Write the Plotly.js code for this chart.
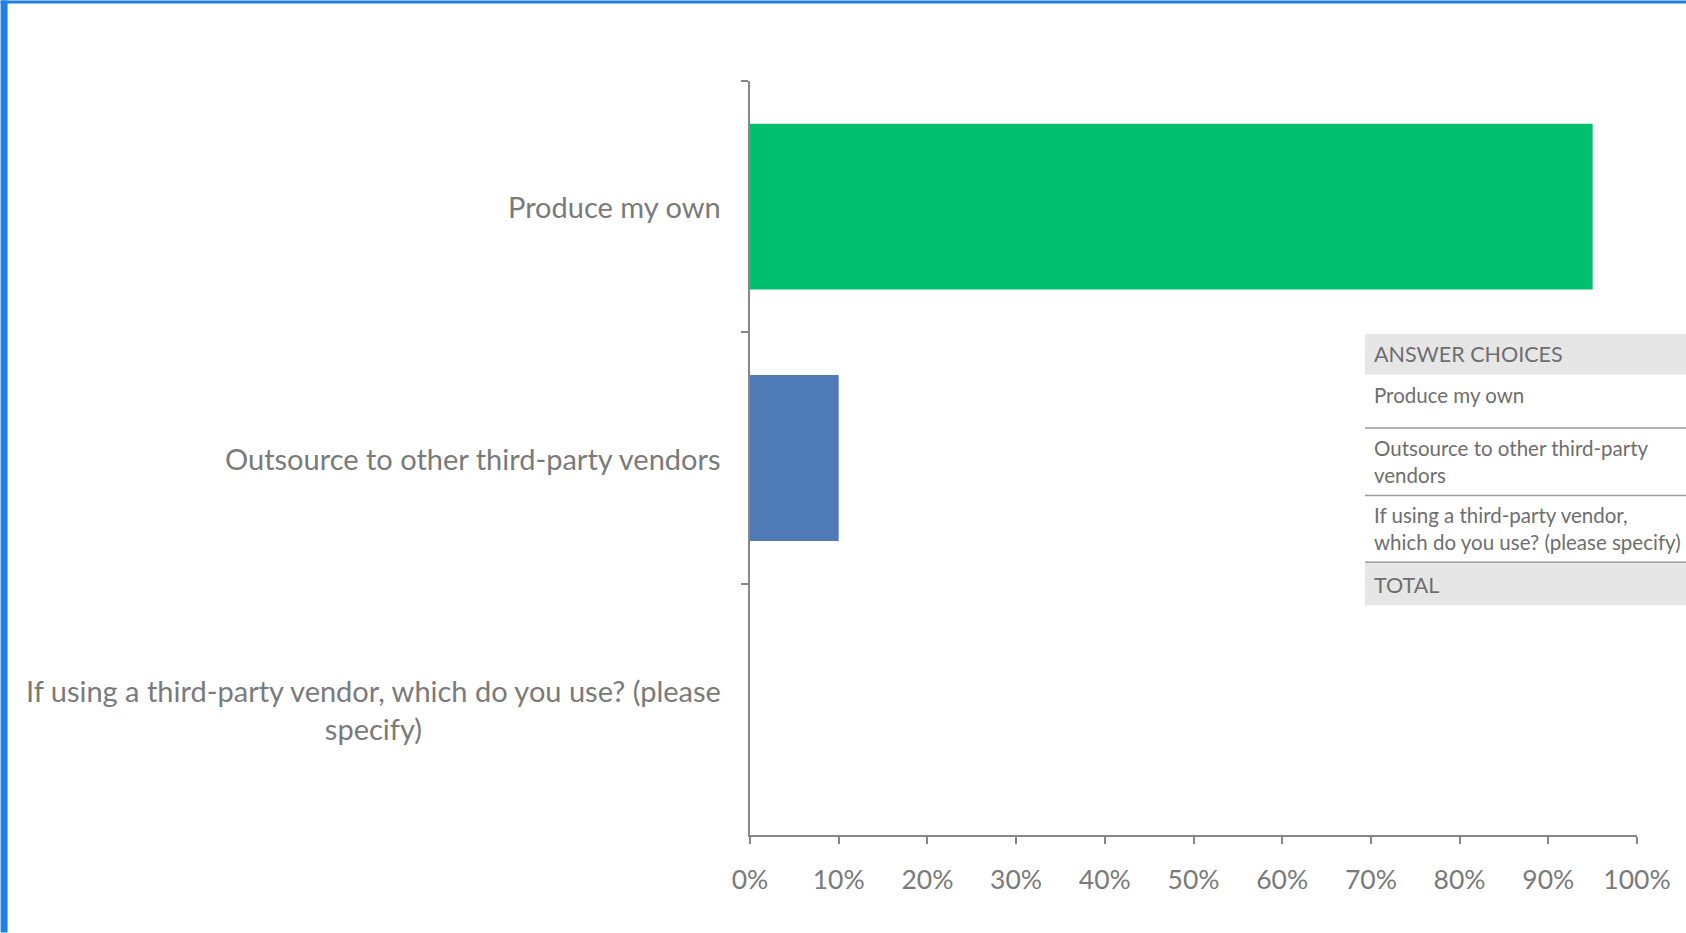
<!DOCTYPE html>
<html>
<head>
<meta charset="utf-8">
<script src="https://cdn.plot.ly/plotly-3.0.1.min.js"></script>
<style>
  html, body { margin: 0; padding: 0; background: #ffffff; }
  #chart { width: 1686px; height: 933px; }
</style>
</head>
<body>
<div id="chart"></div>
<script>
// ---- data ----
const categories = [
  "Produce my own",
  "Outsource to other third-party vendors",
  "If using a third-party vendor, which do you use? (please specify)"
];
const categoryLabels = [
  "Produce my own",
  "Outsource to other third-party vendors",
  "If using a third-party vendor, which do you use? (please<br>specify)"
];
const values = [0.95, 0.10, 0.0];
const barColors = ["#00BF6F", "#4E7AB5", "#4E7AB5"];
const xTickVals = [0, 0.1, 0.2, 0.3, 0.4, 0.5, 0.6, 0.7, 0.8, 0.9, 1.0];
const xTickText = ["0%", "10%", "20%", "30%", "40%", "50%", "60%", "70%", "80%", "90%", "100%"];
const tableHeader = "ANSWER CHOICES";
const tableRows = [
  "Produce my own",
  "Outsource to other third-party<br>vendors",
  "If using a third-party vendor,<br>which do you use? (please specify)"
];
const tableFooter = "TOTAL";

// ---- geometry helpers (pixel -> paper) ----
const W = 1686, H = 933;
const L = 749.5, R = 1636.6, T = 80.6, B = 835.5;
const px = x => (x - L) / (R - L);
const py = y => (B - y) / (B - T);

const axisGray = "#878787";
const labelGray = "#7a7a7a";
const tableGray = "#6e6e6e";

const trace = {
  type: "bar",
  orientation: "h",
  y: categories,
  x: values,
  marker: { color: barColors, line: { width: 0 } },
  hoverinfo: "x+y"
};

const shapes = [
  // blue frame
  { type: "rect", xref: "paper", yref: "paper", x0: px(0), x1: px(7), y0: py(0), y1: py(H),
    fillcolor: "#1E80E2", line: { width: 0 }, layer: "above" },
  { type: "rect", xref: "paper", yref: "paper", x0: px(0), x1: px(W), y0: py(0), y1: py(3),
    fillcolor: "#1E80E2", line: { width: 0 }, layer: "above" },
  // table header band
  { type: "rect", xref: "paper", yref: "paper", x0: px(1364.6), x1: px(W), y0: py(334), y1: py(374.5),
    fillcolor: "#e6e6e6", line: { width: 0 } },
  // row separators
  { type: "line", xref: "paper", yref: "paper", x0: px(1364.6), x1: px(W), y0: py(428), y1: py(428),
    line: { color: "#9a9a9a", width: 1.5 } },
  { type: "line", xref: "paper", yref: "paper", x0: px(1364.6), x1: px(W), y0: py(495.5), y1: py(495.5),
    line: { color: "#9a9a9a", width: 1.5 } },
  { type: "line", xref: "paper", yref: "paper", x0: px(1364.6), x1: px(W), y0: py(562.5), y1: py(562.5),
    line: { color: "#9a9a9a", width: 1.5 } },
  // total band
  { type: "rect", xref: "paper", yref: "paper", x0: px(1364.6), x1: px(W), y0: py(563.5), y1: py(605.5),
    fillcolor: "#e6e6e6", line: { width: 0 } }
];

const annotations = [];
// category labels (centered multi-line, right edge near the axis)
categories.forEach((c, i) => {
  annotations.push({
    xref: "paper", yref: "y", x: 0, y: c, xanchor: "right", yanchor: "middle",
    xshift: -27, text: categoryLabels[i], showarrow: false, align: "center",
    font: { family: "Lato", size: 29, color: labelGray }
  });
});
// table texts
const tableFont = { family: "Lato", size: 20.5, color: tableGray };
annotations.push({ xref: "paper", yref: "paper", x: px(1372), y: py(353.5), xanchor: "left", yanchor: "middle",
  text: tableHeader, showarrow: false, align: "left", font: { family: "Lato", size: 21.5, color: tableGray } });
const rowCenters = [395, 461.5, 528.5];
tableRows.forEach((t, i) => {
  annotations.push({ xref: "paper", yref: "paper", x: px(1372), y: py(rowCenters[i]), xanchor: "left", yanchor: "middle",
    text: t, showarrow: false, align: "left", font: tableFont });
});
annotations.push({ xref: "paper", yref: "paper", x: px(1372), y: py(585), xanchor: "left", yanchor: "middle",
  text: tableFooter, showarrow: false, align: "left", font: { family: "Lato", size: 21.5, color: tableGray } });

const layout = {
  width: W, height: H,
  margin: { l: L, r: W - R, t: T, b: H - B, pad: 0 },
  paper_bgcolor: "#ffffff",
  plot_bgcolor: "#ffffff",
  showlegend: false,
  bargap: 0.34,
  xaxis: {
    range: [0, 1],
    tickvals: xTickVals,
    ticktext: xTickText,
    showgrid: false,
    zeroline: false,
    showline: true,
    linecolor: axisGray,
    linewidth: 2,
    ticks: "outside",
    ticklen: 7,
    tickwidth: 2,
    tickcolor: axisGray,
    ticklabelstandoff: 13,
    tickfont: { family: "Lato", size: 26.5, color: labelGray },
    fixedrange: true
  },
  yaxis: {
    type: "category",
    categoryorder: "array",
    categoryarray: categories,
    range: [2.5, -0.5],
    showgrid: false,
    zeroline: false,
    showline: true,
    linecolor: axisGray,
    linewidth: 2,
    ticks: "outside",
    tickson: "boundaries",
    ticklen: 7,
    tickwidth: 2,
    tickcolor: axisGray,
    showticklabels: false,
    fixedrange: true
  },
  shapes: shapes,
  annotations: annotations
};

Plotly.newPlot("chart", [trace], layout, { displayModeBar: false, responsive: false });
</script>
</body>
</html>
